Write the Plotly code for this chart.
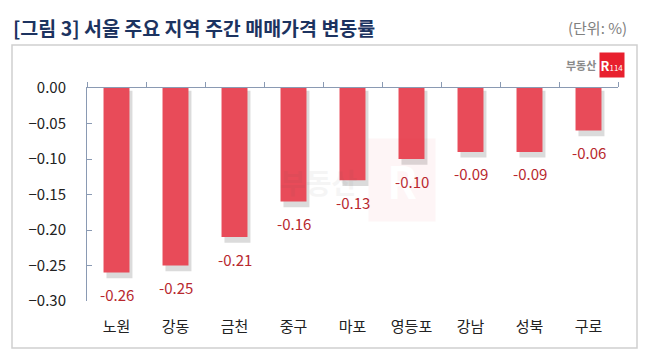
import plotly.graph_objects as go

categories = ["노원", "강동", "금천", "중구", "마포", "영등포", "강남", "성북", "구로"]
values = [-0.26, -0.25, -0.21, -0.16, -0.13, -0.10, -0.09, -0.09, -0.06]
ytick_vals = [0.00, -0.05, -0.10, -0.15, -0.20, -0.25, -0.30]

FONT = "Noto Sans CJK KR"
BAR = "#e84b59"
LABEL = "#b8282e"
AXIS = "#8a9ab3"

PW, PH = 531, 213  # plot area size in px
BW = 0.44

fig = go.Figure()
# soft shadow behind bars
fig.add_trace(go.Bar(
    x=categories, y=[v - 0.004 for v in values], base=-0.004,
    marker=dict(color="rgba(90,90,90,0.22)", line=dict(width=0)),
    width=BW, offset=-BW / 2 + 0.05, hoverinfo="skip", showlegend=False,
))
fig.add_trace(go.Bar(
    x=categories, y=values, marker=dict(color=BAR, line=dict(width=0)),
    width=BW, offset=-BW / 2, hoverinfo="skip", showlegend=False,
))
# hidden trace on top axis to render boundary ticks
fig.add_trace(go.Scatter(x=[-0.5, 8.5], y=[0, 0], xaxis="x2", mode="lines",
                         line=dict(width=0), hoverinfo="skip", showlegend=False))

for c, v in zip(categories, values):
    fig.add_annotation(x=c, y=v, text=f"{v:.2f}", showarrow=False, yshift=-22,
                       font=dict(family=FONT, size=15, color=LABEL))

fig.update_layout(
    width=647, height=359,
    margin=dict(l=87, r=29, t=88, b=58, autoexpand=False),
    paper_bgcolor="white", plot_bgcolor="white",
    font=dict(family=FONT, color="#222222"),
    barmode="overlay",
    xaxis=dict(type="category", showline=False, ticks="", showgrid=False,
               tickfont=dict(size=15, color="#222222"), ticklabelstandoff=15,
               zeroline=False, fixedrange=True),
    xaxis2=dict(overlaying="x", side="top", anchor="y", range=[-0.5, 8.5],
                tickvals=[i + 0.5 for i in range(-1, 9)], ticks="outside",
                ticklen=5, tickcolor=AXIS, showticklabels=False,
                showline=True, linecolor=AXIS, linewidth=1,
                showgrid=False, zeroline=False),
    yaxis=dict(range=[-0.30, 0.0], tickvals=ytick_vals, tickformat=".2f",
               ticks="inside", ticklen=5, tickcolor=AXIS,
               showline=True, linecolor=AXIS, linewidth=1,
               showgrid=False, zeroline=False,
               tickfont=dict(size=15, color="#222222"), ticklabelstandoff=17),
    shapes=[dict(type="rect", xref="paper", yref="paper",
                 x0=-75/PW, x1=550/PW, y0=-47/PH, y1=1 + 43/PH,
                 line=dict(color="#d0d0d0", width=1.5), layer="below")],
)

fig.add_annotation(xref="paper", yref="paper", x=-76/PW, y=1 + 60/PH, xanchor="left",
                   yanchor="middle", showarrow=False,
                   text="<b>[그림 3] 서울 주요 지역 주간 매매가격 변동률</b>",
                   font=dict(family=FONT, size=19.5, color="#1c3360"))
fig.add_annotation(xref="paper", yref="paper", x=542/PW, y=1 + 61/PH, xanchor="right",
                   yanchor="middle", showarrow=False, text="(단위: %)",
                   font=dict(family=FONT, size=15, color="#808080"))
# logo
fig.add_annotation(xref="paper", yref="paper", x=511/PW, y=1 + 23/PH, xanchor="right",
                   yanchor="middle", showarrow=False, text="<b>부동산</b>",
                   font=dict(family=FONT, size=11, color="#8a8a8a"))
fig.add_annotation(xref="paper", yref="paper", x=525/PW, y=1 + 23/PH, xanchor="center",
                   yanchor="middle", showarrow=False,
                   text="<b>R</b><span style='font-size:8px'>114</span>",
                   bgcolor="#e8202e", width=24, height=24, borderpad=0,
                   font=dict(family=FONT, size=13, color="white"))
# faint watermark
fig.add_annotation(xref="paper", yref="paper", x=(318-87)/PW, y=1 - (182-88)/PH,
                   showarrow=False, text="<b>부동산</b>", opacity=0.05,
                   font=dict(family=FONT, size=28, color="#555555"))
fig.add_annotation(xref="paper", yref="paper", x=(402-87)/PW, y=1 - (180-88)/PH,
                   showarrow=False, text="<b>R</b>", opacity=0.04,
                   bgcolor="#e8202e", width=64, height=80,
                   font=dict(family=FONT, size=44, color="#ffffff"))

fig.write_html("out.html", post_script="document.body.style.margin='0';",
               config={"displayModeBar": False})
